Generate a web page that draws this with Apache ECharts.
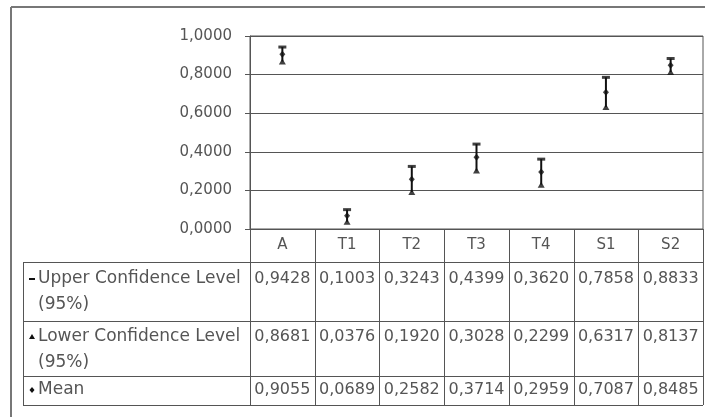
<!DOCTYPE html>
<html>
<head>
<meta charset="utf-8">
<script src="https://cdn.jsdelivr.net/npm/echarts@6/dist/echarts.min.js"></script>
<style>
  html, body { margin: 0; padding: 0; background: #fff; }
  #chart { width: 705px; height: 417px; }
</style>
</head>
<body>
<div id="chart"></div>
<script>
// Sample groups along the category axis
const categories = ['A', 'T1', 'T2', 'T3', 'T4', 'S1', 'S2'];
// 95% confidence bounds and means per group
const upper = [0.9428, 0.1003, 0.3243, 0.4399, 0.3620, 0.7858, 0.8833];
const lower = [0.8681, 0.0376, 0.1920, 0.3028, 0.2299, 0.6317, 0.8137];
const mean  = [0.9055, 0.0689, 0.2582, 0.3714, 0.2959, 0.7087, 0.8485];
// Row titles of the data table (two-line titles split by \n)
const rowTitles = ['Upper Confidence Level\n(95%)', 'Lower Confidence Level\n(95%)', 'Mean'];
const seriesNames = ['Upper Confidence Level (95%)', 'Lower Confidence Level (95%)', 'Mean'];

const FONT = 'DejaVu Sans';
const TEXT = '#555';
const LINE = '#555';
const MARK = '#111';

const fmt = v => v.toFixed(4).replace('.', ',');

const chart = echarts.init(document.getElementById('chart'), null, { renderer: 'canvas' });

const option = {
  animation: false,
  backgroundColor: '#fff',
  grid: { left: 250, right: 2, top: 36, bottom: 188, show: true, borderColor: LINE, borderWidth: 1 },
  xAxis: {
    type: 'category',
    data: categories,
    axisLine: { show: true, lineStyle: { color: LINE, width: 1 } },
    axisTick: { show: false },
    axisLabel: { margin: 9, fontFamily: FONT, fontSize: 15, color: TEXT }
  },
  yAxis: {
    type: 'value',
    min: 0, max: 1, interval: 0.2,
    axisLine: { show: true, lineStyle: { color: LINE, width: 1 } },
    axisTick: { show: true, length: 5, lineStyle: { color: LINE } },
    splitLine: { show: true, lineStyle: { color: LINE, width: 1 } },
    axisLabel: { margin: 18, fontFamily: FONT, fontSize: 15, color: TEXT, formatter: fmt }
  },
  series: [
    {
      // high-low line joining each group's bounds
      type: 'custom',
      name: 'range',
      data: categories.map((c, i) => [i, lower[i], upper[i]]),
      encode: { x: 0, y: [1, 2] },
      renderItem: function (params, api) {
        const p1 = api.coord([api.value(0), api.value(1)]);
        const p2 = api.coord([api.value(0), api.value(2)]);
        return {
          type: 'line',
          shape: { x1: p1[0], y1: p1[1], x2: p2[0], y2: p2[1] },
          style: { stroke: MARK, lineWidth: 2 }
        };
      },
      z: 2
    },
    {
      type: 'scatter', name: seriesNames[0], data: upper,
      symbol: 'rect', symbolSize: [8, 3], itemStyle: { color: MARK }, z: 3
    },
    {
      type: 'scatter', name: seriesNames[1], data: lower,
      symbol: 'triangle', symbolSize: [7, 6], itemStyle: { color: MARK }, z: 3
    },
    {
      type: 'scatter', name: seriesNames[2], data: mean,
      symbol: 'diamond', symbolSize: [6, 7], itemStyle: { color: MARK }, z: 3
    }
  ]
};

chart.setOption(option);

// Data table under the plot, laid out from the category axis positions
function buildTable() {
  const c0 = chart.convertToPixel({ xAxisIndex: 0 }, 0);
  const c1 = chart.convertToPixel({ xAxisIndex: 0 }, 1);
  const step = c1 - c0;
  const left = c0 - step / 2;
  const right = left + step * categories.length;
  const axisY = chart.convertToPixel({ yAxisIndex: 0 }, 0);
  const tableLeft = 23;
  const rowTops = [262, 321, 376];
  const tableBottom = 405;
  const els = [];
  const ls = { stroke: LINE, lineWidth: 1 };

  // outer chart frame
  els.push({ type: 'line', shape: { x1: 11, y1: 7, x2: 705, y2: 7 }, style: { stroke: '#777', lineWidth: 2 } });
  els.push({ type: 'line', shape: { x1: 11, y1: 7, x2: 11, y2: 417 }, style: { stroke: '#777', lineWidth: 2 } });

  // vertical column lines
  for (let i = 0; i <= categories.length; i++) {
    const x = Math.round(left + step * i) + 0.5;
    els.push({ type: 'line', shape: { x1: x, y1: axisY, x2: x, y2: tableBottom }, style: ls });
  }
  // left edge of row title column
  els.push({ type: 'line', shape: { x1: tableLeft + 0.5, y1: rowTops[0], x2: tableLeft + 0.5, y2: tableBottom }, style: ls });
  // horizontal row lines
  rowTops.concat([tableBottom]).forEach(y => {
    els.push({ type: 'line', shape: { x1: tableLeft, y1: y + 0.5, x2: right, y2: y + 0.5 }, style: ls });
  });

  const rows = [upper, lower, mean];
  const line1 = [279, 337, 390];
  const lineGap = 26;
  rows.forEach((vals, r) => {
    // row title text
    const parts = rowTitles[r].split('\n');
    parts.forEach((t, k) => {
      els.push({
        type: 'text',
        style: {
          text: t, x: 38, y: line1[r] + k * lineGap,
          font: '17px "' + FONT + '"', fill: TEXT,
          textAlign: 'left', textVerticalAlign: 'middle'
        }
      });
    });
    // values
    vals.forEach((v, i) => {
      els.push({
        type: 'text',
        style: {
          text: fmt(v), x: left + step * (i + 0.5), y: line1[r],
          font: '16px "' + FONT + '"', fill: TEXT,
          textAlign: 'center', textVerticalAlign: 'middle'
        }
      });
    });
  });

  // row key glyphs
  const gx = 32;
  els.push({ type: 'rect', shape: { x: gx - 3, y: line1[0] - 1, width: 6, height: 2 }, style: { fill: MARK } });
  els.push({ type: 'polygon', shape: { points: [[gx, line1[1] - 3], [gx + 3, line1[1] + 2], [gx - 3, line1[1] + 2]] }, style: { fill: MARK } });
  els.push({ type: 'polygon', shape: { points: [[gx, line1[2] - 3], [gx + 2.5, line1[2]], [gx, line1[2] + 3], [gx - 2.5, line1[2]]] }, style: { fill: MARK } });

  chart.setOption({ graphic: { elements: els } });
}
buildTable();
</script>
</body>
</html>
